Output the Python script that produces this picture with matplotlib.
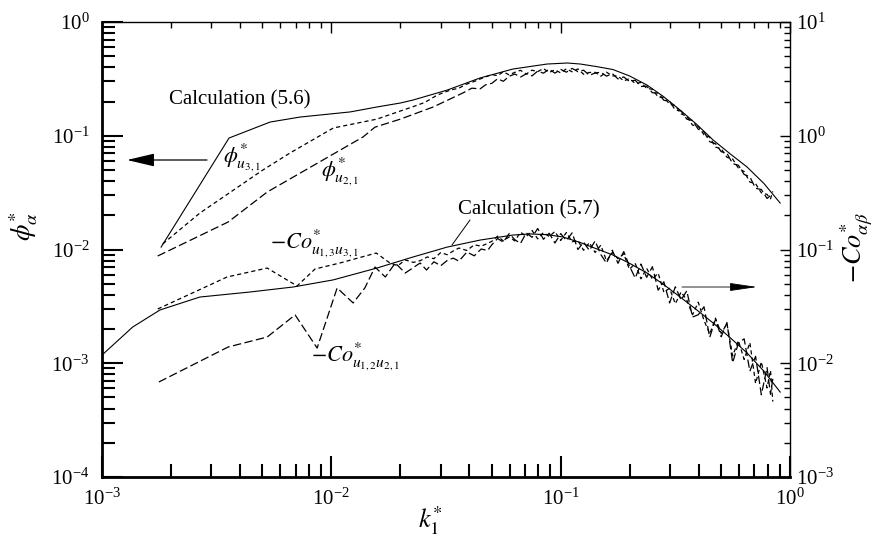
import matplotlib
matplotlib.use("Agg")
import matplotlib.pyplot as plt
from matplotlib.ticker import LogLocator, NullFormatter

plt.rcParams['font.family'] = ['Liberation Serif', 'DejaVu Serif']
plt.rcParams['mathtext.fontset'] = 'stix'
plt.rcParams['lines.scale_dashes'] = False

# ---------------- data ----------------
# Calculation (5.6): phi* (left axis)
calc56_k = [0.00181, 0.00358, 0.00541, 0.0073, 0.0121, 0.0158, 0.0200, 0.0227, 0.032, 0.0445,
            0.0619, 0.0872, 0.107, 0.122, 0.144, 0.169, 0.200, 0.238, 0.280, 0.332, 0.390,
            0.462, 0.550, 0.65, 0.770, 0.906]
calc56_v = [0.0105, 0.0955, 0.132, 0.146, 0.162, 0.179, 0.194, 0.206, 0.252, 0.322,
            0.386, 0.427, 0.436, 0.427, 0.405, 0.382, 0.335, 0.279, 0.222, 0.168, 0.127,
            0.0918, 0.0690, 0.0531, 0.0380, 0.0256]

# shared wavenumber grid of the noisy measured part (k* >= 0.05)
k_hi = [0.0501, 0.0531, 0.0562, 0.0596, 0.0631, 0.0668, 0.0708, 0.0750, 0.0794, 0.0841,
        0.0891, 0.0944, 0.1000, 0.1059, 0.1122, 0.1189, 0.1259, 0.1334, 0.1413, 0.1496,
        0.1585, 0.1679, 0.1778, 0.1884, 0.1995, 0.2113, 0.2239, 0.2371, 0.2512, 0.2661,
        0.2818, 0.2985, 0.3162, 0.3350, 0.3548, 0.3758, 0.3981, 0.4217, 0.4467, 0.4732,
        0.5012, 0.5309, 0.5623, 0.5957, 0.6310, 0.6683, 0.7079, 0.7499, 0.7943, 0.8222,
        0.8414]

# measured phi*_{u3,1}
phi31_k_lo = [0.00184, 0.00267, 0.00503, 0.0066, 0.0102, 0.0158, 0.0200, 0.0227, 0.0255, 0.0290,
              0.0330, 0.036, 0.039, 0.042, 0.045]
phi31_v_lo = [0.0112, 0.0209, 0.050, 0.0705, 0.117, 0.140, 0.165, 0.180, 0.196, 0.228,
              0.252, 0.262, 0.285, 0.300, 0.318]
phi31_v_hi = [0.345, 0.337, 0.365, 0.343, 0.361, 0.376, 0.349, 0.377, 0.366, 0.390,
              0.360, 0.380, 0.357, 0.388, 0.365, 0.387, 0.347, 0.360, 0.361, 0.334,
              0.362, 0.336, 0.335, 0.303, 0.318, 0.288, 0.294, 0.261, 0.256, 0.219,
              0.217, 0.190, 0.184, 0.156, 0.148, 0.124, 0.121, 0.102, 0.0972, 0.0795,
              0.0768, 0.0647, 0.0624, 0.0519, 0.0484, 0.0392, 0.0379, 0.0315, 0.0305, 0.0279,
              0.0324]

# measured phi*_{u2,1}
phi21_k_lo = [0.00175, 0.00355, 0.00525, 0.01374, 0.0155, 0.0200, 0.0278, 0.0375, 0.041, 0.0445,
              0.047]
phi21_v_lo = [0.00877, 0.01746, 0.032, 0.0975, 0.119, 0.140, 0.179, 0.238, 0.262, 0.258,
              0.280]
phi21_v_hi = [0.289, 0.317, 0.301, 0.333, 0.349, 0.328, 0.350, 0.336, 0.370, 0.355,
              0.385, 0.355, 0.383, 0.362, 0.391, 0.366, 0.377, 0.340, 0.356, 0.362,
              0.334, 0.352, 0.316, 0.329, 0.300, 0.308, 0.271, 0.273, 0.239, 0.237,
              0.205, 0.201, 0.168, 0.165, 0.140, 0.136, 0.114, 0.108, 0.0886, 0.0851,
              0.0725, 0.0701, 0.0569, 0.0550, 0.0457, 0.0435, 0.0345, 0.0337, 0.0281, 0.0298,
              0.0306]

# Calculation (5.7): -Co* (right axis)
calc57_k = [0.001, 0.00136, 0.00179, 0.00267, 0.00442, 0.00681, 0.01017, 0.0158, 0.0227, 0.032,
            0.0445, 0.0619, 0.0736, 0.087, 0.102, 0.122, 0.144, 0.169, 0.200, 0.238, 0.280,
            0.332, 0.390, 0.462, 0.550, 0.65, 0.770, 0.906]
calc57_v = [0.0118, 0.0208, 0.0294, 0.0382, 0.0423, 0.0468, 0.054, 0.0687, 0.0859, 0.105,
            0.121, 0.134, 0.137, 0.135, 0.129, 0.115, 0.101, 0.0895, 0.0755, 0.0621, 0.0495,
            0.0382, 0.0297, 0.0226, 0.0167, 0.0123, 0.0085, 0.00558]

# measured -Co*_{u1,3 u3,1}
co13_k_lo = [0.00175, 0.00351, 0.00525, 0.00709, 0.00849, 0.0109, 0.0157, 0.0180, 0.0195, 0.0210,
             0.0228, 0.0245, 0.0262, 0.028, 0.030, 0.032, 0.034, 0.036, 0.039, 0.042,
             0.045, 0.048]
co13_v_lo = [0.030, 0.0573, 0.0687, 0.0478, 0.0674, 0.0761, 0.0931, 0.0761, 0.072, 0.081,
             0.077, 0.080, 0.086, 0.083, 0.094, 0.090, 0.097, 0.103, 0.098, 0.110,
             0.107, 0.113]
co13_v_hi = [0.118, 0.131, 0.119, 0.129, 0.119, 0.142, 0.130, 0.147, 0.124, 0.141,
             0.130, 0.144, 0.120, 0.141, 0.117, 0.120, 0.0984, 0.115, 0.0942, 0.109,
             0.0794, 0.0942, 0.0829, 0.0916, 0.0668, 0.0757, 0.0552, 0.0684, 0.0548, 0.0620,
             0.0422, 0.0456, 0.0333, 0.0423, 0.0360, 0.0267, 0.0344, 0.0238, 0.0181, 0.0249,
             0.0183, 0.0223, 0.0116, 0.0158, 0.0108, 0.0152, 0.00664, 0.0103, 0.00607, 0.00865,
             0.00460]

# measured -Co*_{u1,2 u2,1}
co12_k_lo = [0.00177, 0.00355, 0.00525, 0.00695, 0.00867, 0.0106, 0.01245, 0.0140, 0.0155, 0.0172,
             0.0190, 0.0210, 0.0244, 0.026, 0.028, 0.030, 0.032, 0.034, 0.036, 0.039,
             0.042, 0.045, 0.048]
co12_v_lo = [0.00684, 0.0139, 0.0170, 0.0266, 0.0136, 0.0459, 0.0339, 0.0459, 0.0701, 0.0573,
             0.0761, 0.0621, 0.0761, 0.066, 0.078, 0.072, 0.080, 0.084, 0.079, 0.095,
             0.088, 0.101, 0.098]
co12_v_hi = [0.110, 0.125, 0.116, 0.138, 0.122, 0.113, 0.140, 0.128, 0.153, 0.123,
             0.139, 0.114, 0.138, 0.120, 0.140, 0.100, 0.116, 0.0981, 0.119, 0.0903,
             0.0759, 0.0986, 0.0756, 0.0959, 0.0716, 0.0561, 0.0745, 0.0569, 0.0706, 0.0439,
             0.0520, 0.0339, 0.0470, 0.0360, 0.0433, 0.0255, 0.0267, 0.0314, 0.0169, 0.0243,
             0.0171, 0.0228, 0.0101, 0.0151, 0.0164, 0.00852, 0.0115, 0.00528, 0.00918, 0.00534,
             0.00729]

x_lim = (1e-3, 1.0)
yl_lim = (1e-4, 1.0)
yr_lim = (1e-3, 10.0)

# ---------------- figure ----------------
W, H = 875, 539
fig = plt.figure(figsize=(W / 100, H / 100), dpi=100)
L, R, T, B = 102, 790, 22, 477
ax = fig.add_axes([L / W, 1 - B / H, (R - L) / W, (B - T) / H])


def axf(px, py):
    return ((px - L) / (R - L), (B - py) / (B - T))


ax.set_xscale('log')
ax.set_yscale('log')
ax.set_xlim(*x_lim)
ax.set_ylim(*yl_lim)

ax2 = ax.twinx()
ax2.set_yscale('log')
ax2.set_ylim(*yr_lim)

ax3 = ax.twiny()
ax3.set_xscale('log')
ax3.set_xlim(*x_lim)

lw = 0.8
lw_meas = 0.9
short = (3.0, 2.2)
long_ = (6.0, 2.5)
ax.plot(calc56_k, calc56_v, color='k', lw=lw)
ax.plot(phi31_k_lo + k_hi, phi31_v_lo + phi31_v_hi, color='k', lw=lw_meas, dashes=short)
ax.plot(phi21_k_lo + k_hi, phi21_v_lo + phi21_v_hi, color='k', lw=lw_meas, dashes=long_)
ax2.plot(calc57_k, calc57_v, color='k', lw=lw)
ax2.plot(co13_k_lo + k_hi, co13_v_lo + co13_v_hi, color='k', lw=lw_meas, dashes=short)
ax2.plot(co12_k_lo + k_hi, co12_v_lo + co12_v_hi, color='k', lw=lw_meas, dashes=long_)

# spines
for a in (ax2, ax3):
    for s in a.spines.values():
        s.set_visible(False)
ax.spines['left'].set_linewidth(2.0)
ax.spines['bottom'].set_linewidth(2.0)
ax.spines['top'].set_linewidth(1.0)
ax.spines['right'].set_linewidth(1.0)

# ticks
for a, axis in ((ax, 'x'), (ax, 'y'), (ax2, 'y'), (ax3, 'x')):
    loc_axis = a.xaxis if axis == 'x' else a.yaxis
    loc_axis.set_major_locator(LogLocator(base=10, numticks=10))
    loc_axis.set_minor_locator(LogLocator(base=10, subs=range(2, 10), numticks=10))
    loc_axis.set_minor_formatter(NullFormatter())

ax.tick_params(axis='both', which='both', direction='in', top=False, right=False,
               width=1.5, labelsize=15, colors='k')
ax.tick_params(axis='both', which='major', length=15)
ax.tick_params(axis='both', which='minor', length=9.5)
ax.tick_params(axis='x', which='major', pad=8)
ax.tick_params(axis='y', which='major', pad=9)

ax2.tick_params(axis='y', which='both', direction='in', width=1.0, labelsize=15, pad=4)
ax2.tick_params(axis='y', which='major', length=7)
ax2.tick_params(axis='y', which='minor', length=4.5)

ax3.tick_params(axis='x', which='both', direction='in', top=True, bottom=False,
                labeltop=False, labelbottom=False, width=1.0)
ax3.tick_params(axis='x', which='major', length=8)
ax3.tick_params(axis='x', which='minor', length=4.5)

# axis labels
fig.text(24 / W, 1 - 226 / H, r'$\phi^{*}_{\alpha}$', rotation=90, ha='center', va='center', fontsize=19)
fig.text(857 / W, 1 - 248 / H, r'$-Co^{*}_{\alpha\beta}$', rotation=90, ha='center', va='center', fontsize=19)
fig.text(430 / W, 1 - 521 / H, r'$k^{*}_{1}$', ha='center', va='center', fontsize=19)

# annotations
ax.text(*axf(169, 100), 'Calculation (5.6)', transform=ax.transAxes, ha='left', va='center', fontsize=15)
ax.text(*axf(458, 210), 'Calculation (5.7)', transform=ax.transAxes, ha='left', va='center', fontsize=15)
ax.annotate('', xy=axf(452, 245), xytext=axf(470, 220), xycoords='axes fraction',
            textcoords='axes fraction',
            arrowprops=dict(arrowstyle='-', lw=0.7, color='k', shrinkA=0, shrinkB=0))

ax.text(*axf(223, 158), r'$\phi^{*}_{u_{3,1}}$', transform=ax.transAxes, ha='left', va='center', fontsize=16)
ax.text(*axf(321, 172), r'$\phi^{*}_{u_{2,1}}$', transform=ax.transAxes, ha='left', va='center', fontsize=16)
ax.text(*axf(270, 244), r'$-Co^{*}_{u_{1,3}u_{3,1}}$', transform=ax.transAxes, ha='left', va='center', fontsize=16)
ax.text(*axf(311, 357), r'$-Co^{*}_{u_{1,2}u_{2,1}}$', transform=ax.transAxes, ha='left', va='center', fontsize=16)

ax.annotate('', xy=axf(127, 160), xytext=axf(207, 160), xycoords='axes fraction',
            textcoords='axes fraction',
            arrowprops=dict(arrowstyle='-|>,head_length=1.7,head_width=0.4', mutation_scale=10,
                            lw=0.9, color='k', shrinkA=0, shrinkB=0))
ax.annotate('', xy=axf(757, 287), xytext=axf(682, 287), xycoords='axes fraction',
            textcoords='axes fraction',
            arrowprops=dict(arrowstyle='-|>,head_length=1.7,head_width=0.25', mutation_scale=10,
                            lw=0.6, color='k', shrinkA=0, shrinkB=0))

fig.savefig('out.png', dpi=100)
